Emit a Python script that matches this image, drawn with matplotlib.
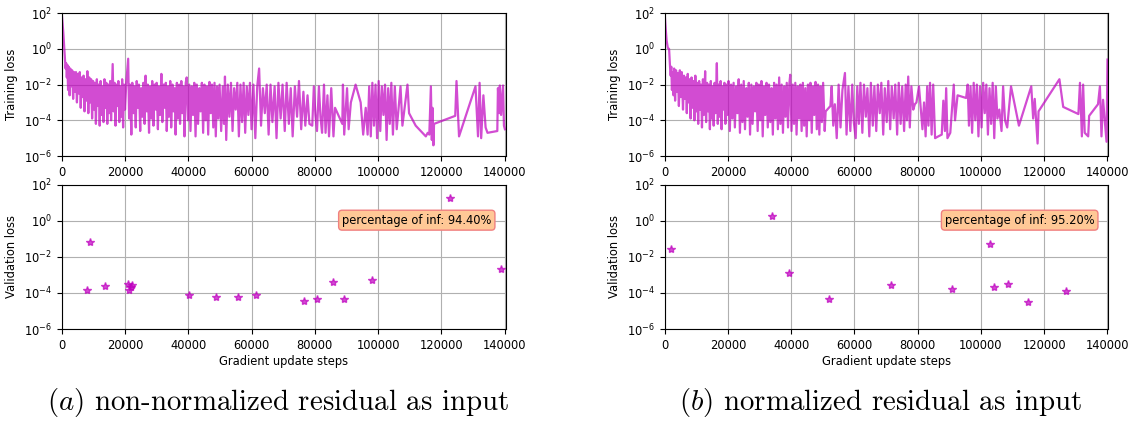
import numpy as np
import matplotlib
matplotlib.use("Agg")
import matplotlib.pyplot as plt
from matplotlib.ticker import NullLocator

plt.rcParams["mathtext.fontset"] = "cm"

# training loss, steps in thousands / log10(loss)
train_k_a = [
    0.0, 0.3, 0.5, 0.8, 1.0, 1.2, 1.4, 1.6, 1.8, 2.0,
    2.2, 2.5, 2.7, 3.0, 3.3, 3.6, 3.9, 4.2, 4.5, 4.8,
    5.1, 5.4, 5.7, 6.0, 6.3, 6.6, 6.9, 7.2, 7.5, 7.8,
    8.1, 8.4, 8.7, 9.0, 9.3, 9.6, 9.9, 10.2, 10.5, 10.8,
    11.1, 11.4, 11.7, 12.0, 12.3, 12.6, 12.9, 13.2, 13.5, 13.8,
    14.1, 14.4, 14.7, 15.0, 15.3, 15.6, 16.1, 16.4, 16.7, 17.0,
    17.3, 17.6, 17.9, 18.2, 18.5, 18.8, 19.1, 19.4, 19.7, 20.0,
    20.4, 21.0, 21.3, 21.6, 22.0, 22.3, 22.7, 23.0, 23.4, 23.7,
    24.1, 24.4, 24.8, 25.1, 25.5, 25.8, 26.2, 26.5, 26.9, 27.2,
    27.6, 27.9, 28.3, 28.6, 29.0, 29.3, 29.7, 30.0, 30.4, 30.7,
    31.1, 31.5, 31.8, 32.2, 32.5, 32.9, 33.2, 33.6, 33.9, 34.3,
    34.6, 35.0, 35.3, 35.7, 36.0, 36.4, 36.7, 37.1, 37.4, 37.8,
    38.1, 38.5, 38.8, 39.2, 39.5, 39.9, 40.3, 40.7, 41.1, 41.5,
    41.9, 42.3, 42.7, 43.1, 43.5, 43.9, 44.3, 44.7, 45.1, 45.5,
    45.9, 46.3, 46.7, 47.1, 47.5, 47.9, 48.3, 48.7, 49.1, 49.5,
    49.9, 50.4, 50.9, 51.3, 51.6, 52.0, 52.5, 53.0, 53.5, 54.0,
    54.5, 55.0, 55.5, 56.0, 56.5, 57.0, 57.5, 58.0, 58.5, 59.0,
    59.5, 60.0, 60.6, 61.2, 61.8, 62.4, 63.0, 63.6, 64.2, 64.8,
    65.4, 66.0, 66.6, 67.3, 67.9, 68.5, 69.2, 69.8, 70.5, 71.1,
    71.8, 72.4, 73.0, 73.7, 74.4, 75.0, 75.7, 76.4, 77.0, 77.7,
    78.3, 79.2, 79.7, 80.2, 80.7, 81.3, 81.8, 82.3, 82.9, 83.4,
    84.0, 84.5, 85.2, 85.9, 86.4, 88.7, 88.9, 89.3, 90.2, 90.7, 91.4, 92.9, 94.5,
    95.3, 96.1, 96.7, 97.2, 97.7, 98.2, 98.7, 99.2, 99.7, 100.2,
    100.7, 101.2, 101.7, 102.2, 102.7, 103.2, 103.7, 104.2, 104.7, 105.3,
    105.9, 107.1, 107.7, 109.3, 109.8, 111.9, 115.1, 115.7, 116.2, 116.7,
    117.0, 117.2, 117.5, 117.7, 124.4, 124.8, 125.6, 130.8, 131.6, 132.1,
    132.6, 133.3, 134.0, 134.6, 137.7, 137.9, 138.3, 138.5, 138.9, 139.5,
    139.8, 140.1,
]
train_log_a = [
    2.0, 1.3, 0.9, 0.0, -0.7, -1.1, -0.8, -1.6, -0.9, -2.3,
    -1.0, -2.6, -1.1, -2.1, -1.2, -2.8, -1.3, -2.4, -1.3, -3.0,
    -1.4, -2.5, -1.3, -3.3, -1.6, -2.7, -1.5, -3.5, -1.7, -2.9,
    -1.25, -3.6, -1.6, -3.0, -1.7, -3.9, -1.8, -3.4, -1.9, -4.2,
    -1.7, -3.2, -2.0, -4.3, -1.8, -3.7, -2.1, -4.1, -1.7, -3.3,
    -1.9, -4.2, -2.0, -3.6, -1.8, -4.0, -0.85, -3.5, -1.9, -4.3,
    -2.0, -3.2, -1.8, -4.1, -2.1, -3.8, -1.7, -4.4, -2.0, -3.4,
    -1.9, -0.55, -3.9, -2.0, -4.8, -1.9, -3.6, -2.1, -4.4, -1.8,
    -3.3, -2.0, -4.6, -2.2, -3.8, -1.9, -4.2, -1.5, -3.5, -2.0,
    -4.7, -2.1, -3.9, -1.8, -4.3, -2.0, -3.4, -1.9, -4.5, -2.1,
    -3.7, -1.4, -4.1, -2.0, -3.3, -1.9, -4.6, -2.1, -3.8, -1.8,
    -4.4, -2.0, -3.5, -2.2, -4.8, -1.9, -3.9, -2.0, -4.2, -1.8,
    -3.6, -2.1, -4.9, -1.9, -1.6, -4.0, -2.0, -4.6, -2.1, -3.7,
    -1.9, -4.9, -2.0, -4.2, -2.2, -3.5, -1.9, -4.7, -2.0, -4.0,
    -2.1, -4.8, -1.85, -3.6, -2.0, -4.4, -1.9, -4.9, -2.1, -3.9,
    -2.0, -4.6, -2.1, -4.2, -1.55, -5.1, -2.0, -3.8, -1.9, -4.6,
    -2.2, -3.4, -1.9, -4.9, -2.0, -4.1, -1.9, -4.7, -2.1, -3.7,
    -1.9, -4.5, -2.0, -5.0, -2.1, -1.1, -4.3, -2.2, -3.6, -2.0,
    -4.8, -2.0, -4.1, -2.1, -5.0, -1.9, -3.9, -2.0, -4.6, -1.9,
    -4.2, -2.2, -4.9, -2.1, -3.8, -1.8, -4.5, -2.4, -4.3, -2.6,
    -4.2, -4.3, -2.1, -3.7, -4.6, -2.1, -3.8, -4.7, -2.0, -4.7,
    -2.6, -4.9, -2.2, -4.9, -3.3, -4.2, -2.0, -4.8, -2.2, -4.5, -3.0, -2.0, -3.0,
    -4.8, -3.3, -4.8, -2.1, -4.9, -1.9, -4.3, -2.0, -5.0, -1.8,
    -4.6, -2.1, -3.7, -2.0, -5.1, -2.2, -4.2, -1.9, -4.8, -2.1,
    -4.5, -2.1, -4.3, -2.0, -3.6, -4.3, -4.9, -4.7, -4.8, -2.1,
    -5.1, -3.3, -5.4, -4.2, -3.75, -1.8, -4.9, -2.1, -4.9, -1.9,
    -5.0, -2.6, -4.4, -4.7, -4.6, -2.2, -3.6, -2.05, -3.7, -2.05,
    -4.3, -4.5,
]

train_k_b = [
    0.0, 0.3, 0.6, 1.0, 1.4, 1.7, 1.9, 2.1, 2.3, 2.5,
    2.8, 3.0, 3.3, 3.6, 3.9, 4.2, 4.5, 4.8, 5.1, 5.4,
    5.8, 6.1, 6.4, 6.7, 7.0, 7.3, 7.6, 7.9, 8.2, 8.5,
    8.8, 9.1, 9.4, 9.7, 10.0, 10.3, 10.6, 10.9, 11.2, 11.5,
    11.8, 12.1, 12.4, 12.8, 13.1, 13.4, 13.7, 14.0, 14.3, 14.6,
    14.9, 15.2, 15.5, 15.8, 16.1, 16.5, 16.8, 17.1, 17.4, 17.7,
    18.0, 18.3, 18.6, 18.9, 19.2, 19.5, 19.8, 20.2, 20.6, 21.0,
    21.4, 21.8, 22.2, 22.6, 23.0, 23.4, 23.8, 24.2, 24.6, 25.0,
    25.4, 25.8, 26.2, 26.6, 27.0, 27.4, 27.8, 28.2, 28.6, 29.0,
    29.4, 29.8, 30.2, 30.6, 31.0, 31.4, 31.8, 32.2, 32.6, 33.0,
    33.4, 33.8, 34.2, 34.6, 35.0, 35.4, 35.8, 36.2, 36.6, 37.0,
    37.4, 37.8, 38.2, 38.6, 39.0, 39.4, 39.7, 40.1, 40.5, 40.9,
    41.3, 41.7, 42.1, 42.5, 42.9, 43.3, 43.7, 44.1, 44.5, 44.9,
    45.3, 45.7, 46.1, 46.5, 46.9, 47.3, 47.7, 48.1, 48.5, 48.9,
    49.3, 49.7, 50.1, 50.6, 50.9, 52.4, 52.8, 53.3, 53.8, 54.4,
    55.0, 55.6, 56.2, 57.0, 57.5, 58.1, 58.7, 59.3, 59.8, 60.4,
    60.9, 61.4, 61.9, 62.5, 63.0, 63.6, 64.1, 64.7, 65.2, 65.8,
    66.3, 66.9, 67.4, 68.0, 68.5, 69.1, 69.6, 70.2, 70.7, 71.3,
    71.8, 72.4, 72.9, 73.5, 74.0, 74.6, 75.1, 75.7, 76.2, 76.6,
    77.0, 77.5, 78.0, 78.6, 79.1, 79.6, 80.4, 80.9, 81.5, 82.0,
    82.5, 83.0, 83.4, 83.9, 84.4, 84.9, 85.5, 86.5, 87.6, 88.1,
    88.6, 89.0, 89.4, 90.3, 91.4, 91.8, 92.6, 95.3, 95.8, 96.2,
    96.7, 97.2, 97.7, 98.2, 98.7, 99.2, 99.7, 100.2, 100.7, 101.2,
    101.7, 102.2, 102.7, 103.2, 103.7, 104.2, 104.7, 105.2, 105.8, 106.5,
    107.0, 107.6, 108.3, 109.5, 112.0, 115.9, 116.5, 117.0, 117.9, 118.2,
    124.8, 126.0, 130.8, 131.3, 131.9, 132.3, 132.8, 133.9, 134.2, 137.0,
    137.6, 138.1, 138.6, 139.2, 139.7, 140.0,
]
train_log_b = [
    2.0, 1.2, 0.5, 0.05, 0.0, -1.0, -1.5, -1.0, -2.3, -1.3,
    -2.6, -1.1, -2.9, -1.2, -2.4, -1.35, -3.2, -1.2, -2.7, -1.3,
    -3.4, -1.5, -2.8, -1.6, -3.6, -1.4, -3.0, -1.7, -3.9, -1.6,
    -3.3, -1.8, -4.0, -1.5, -3.5, -1.9, -4.2, -1.8, -3.4, -2.0,
    -4.4, -1.7, -3.7, -1.25, -4.1, -1.9, -3.5, -2.0, -4.5, -1.8,
    -3.9, -2.1, -4.3, -1.9, -3.6, -0.8, -4.2, -2.0, -3.8, -1.8,
    -4.5, -2.1, -3.4, -1.9, -4.2, -2.0, -3.7, -1.8, -4.6, -2.0,
    -3.9, -1.9, -4.4, -2.1, -3.6, -1.7, -4.7, -2.0, -4.1, -1.8,
    -4.5, -2.2, -3.8, -1.9, -4.8, -2.0, -4.2, -2.1, -3.5, -1.9,
    -4.6, -2.0, -4.0, -1.8, -4.9, -2.1, -3.7, -1.9, -4.4, -2.0,
    -4.1, -2.2, -4.8, -1.9, -3.9, -2.0, -4.5, -1.6, -4.2, -2.0,
    -4.7, -2.1, -3.8, -1.9, -4.4, -2.0, -1.45, -4.6, -2.0, -4.2,
    -1.9, -4.8, -2.1, -3.9, -2.0, -4.6, -1.9, -4.3, -2.2, -4.9,
    -2.0, -4.0, -1.9, -4.7, -2.1, -3.7, -1.85, -4.5, -2.0, -4.8,
    -2.1, -4.1, -1.9, -4.6, -3.5, -3.2, -2.1, -4.3, -3.1, -5.0,
    -2.0, -4.4, -2.3, -1.35, -4.8, -2.1, -4.6, -2.0, -4.1, -5.0,
    -2.1, -4.2, -1.9, -4.7, -2.0, -3.8, -2.2, -4.9, -1.9, -4.3,
    -2.1, -4.6, -2.0, -3.6, -1.9, -4.8, -2.2, -4.1, -1.8, -4.5,
    -2.1, -3.9, -2.0, -4.8, -1.9, -4.2, -2.1, -4.6, -2.0, -4.0,
    -1.55, -4.4, -2.1, -3.4, -3.1, -3.0, -2.1, -3.2, -4.5, -3.0,
    -4.9, -2.1, -4.3, -1.9, -4.8, -2.0, -5.0, -4.9, -4.8, -2.9,
    -4.6, -2.2, -5.0, -4.7, -2.0, -4.0, -2.6, -2.75, -2.0, -4.3,
    -2.1, -4.7, -1.9, -4.0, -2.0, -4.9, -2.1, -4.4, -1.9, -3.6,
    -2.0, -4.8, -2.2, -4.2, -1.9, -5.0, -2.1, -3.9, -3.4, -4.6,
    -2.1, -4.0, -4.4, -2.1, -4.3, -2.1, -3.9, -2.8, -5.3, -3.5,
    -1.7, -3.25, -3.65, -1.9, -4.9, -2.0, -4.7, -4.9, -3.75, -3.1,
    -2.1, -4.9, -2.85, -4.1, -5.2, -0.6,
]

# validation loss (finite evaluations only)
val_k_a = [7.9, 8.9, 13.7, 20.9, 21.2, 21.8, 22.3, 40.2, 48.7, 55.6,
           61.5, 76.6, 80.6, 85.8, 89.2, 98.2, 122.7, 138.9]
val_log_a = [-3.82, -1.17, -3.63, -3.5, -3.85, -3.65, -3.55, -4.13, -4.24, -4.22,
             -4.13, -4.47, -4.33, -3.39, -4.32, -3.28, 1.28, -2.65]
val_k_b = [2.0, 33.9, 39.2, 51.8, 71.5, 90.7, 103.0, 104.1, 108.6, 114.8, 127.0]
val_log_b = [-1.56, 0.29, -2.89, -4.32, -3.58, -3.78, -1.3, -3.67, -3.5, -4.5, -3.87]

inf_pct = ["94.40%", "95.20%"]
captions = [r"$(a)$ non-normalized residual as input",
            r"$(b)$ normalized residual as input"]

panels = [
    (train_k_a, train_log_a, val_k_a, val_log_a),
    (train_k_b, train_log_b, val_k_b, val_log_b),
]
assert len(train_k_a) == len(train_log_a) and len(train_k_b) == len(train_log_b)

FS = 8.3
fig = plt.figure(figsize=(11.35, 4.24), dpi=100)
lefts = [0.0544, 0.5856]
cap_x = [0.245, 0.776]
for i, (tk, tl, vk, vl) in enumerate(panels):
    ax_t = fig.add_axes([lefts[i], 0.632, 0.391, 0.337])
    ax_v = fig.add_axes([lefts[i], 0.224, 0.391, 0.34])

    ax_t.plot(np.array(tk) * 1000, 10.0 ** np.array(tl), color="m", alpha=0.7, lw=1.6)
    ax_v.plot(np.array(vk) * 1000, 10.0 ** np.array(vl), "*", color="m", alpha=0.7, ms=6)

    for ax in (ax_t, ax_v):
        ax.set_yscale("log")
        ax.set_ylim(1e-6, 1e2)
        ax.set_xlim(0, 140300)
        ax.set_yticks([1e-6, 1e-4, 1e-2, 1e0, 1e2])
        ax.yaxis.set_minor_locator(NullLocator())
        ax.set_xticks(range(0, 140001, 20000))
        ax.tick_params(labelsize=FS)
        ax.grid(True)

    ax_t.set_ylabel("Training loss", fontsize=FS)
    ax_v.set_ylabel("Validation loss", fontsize=FS)
    ax_v.set_xlabel("Gradient update steps", fontsize=FS, labelpad=2)
    ax_v.text(0.80, 0.755, "percentage of inf: " + inf_pct[i], transform=ax_v.transAxes,
              ha="center", va="center", fontsize=FS,
              bbox=dict(boxstyle="round", facecolor="#ffc896", edgecolor="#f08080"))

    fig.text(cap_x[i], 0.05, captions[i], family="cmr10", fontsize=20.8,
             ha="center", va="center")

fig.savefig("out.png", dpi=100)
